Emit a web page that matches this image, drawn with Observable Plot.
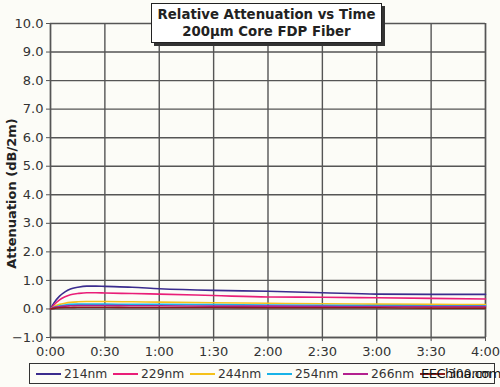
<!DOCTYPE html>
<html>
<head>
<meta charset="utf-8">
<script src="https://cdn.jsdelivr.net/npm/d3@7"></script>
<script src="https://cdn.jsdelivr.net/npm/@observablehq/plot@0.6"></script>
<style>
  html, body { margin: 0; padding: 0; background: #fcfcf7; }
  #wrap { position: relative; width: 500px; height: 387px; font-family: "DejaVu Sans", sans-serif; overflow: hidden; }
  #title { position: absolute; left: 151px; top: 3px; width: 229px; height: 38px; background: #fff; border: 1.5px solid #222;
    box-shadow: 3px 3px 0 #333; font-weight: bold; font-size: 13.3px; line-height: 17px; text-align: center; color: #222;
    display: flex; flex-direction: column; justify-content: center; }
  #legend { position: absolute; left: 29px; top: 363px; width: 464px; height: 19px; border: 1.5px solid #333; background: #fcfcf7;
    font-size: 12.3px; color: #333; }
  .item { position: absolute; top: 0; height: 19px; display: flex; align-items: center; }
  .sw { width: 25px; height: 0; border-top: 2px solid; margin-right: 3px; }
  #wm { position: absolute; left: 421px; top: 366px; font-size: 13px; color: #111; letter-spacing: -0.5px; }
</style>
</head>
<body>
<div id="wrap">
  <div id="chart"></div>
  <div id="title"><div>Relative Attenuation vs Time</div><div>200µm Core FDP Fiber</div></div>
  <div id="legend"></div>
  <div id="wm">EEChina.com</div>
</div>
<script>
const times = [0, 2, 5, 8, 11, 15, 20, 25, 30, 45, 60, 90, 120, 150, 180, 210, 240];
const s214 = [0, 0.22, 0.45, 0.60, 0.70, 0.76, 0.80, 0.80, 0.79, 0.76, 0.71, 0.65, 0.62, 0.57, 0.52, 0.51, 0.51];
const s229 = [0, 0.15, 0.32, 0.43, 0.50, 0.54, 0.57, 0.57, 0.56, 0.54, 0.52, 0.47, 0.42, 0.41, 0.39, 0.37, 0.35];
const s244 = [0, 0.08, 0.16, 0.20, 0.23, 0.25, 0.26, 0.26, 0.26, 0.25, 0.24, 0.22, 0.20, 0.18, 0.17, 0.16, 0.15];
const s254 = [0, 0.06, 0.11, 0.14, 0.16, 0.17, 0.17, 0.17, 0.17, 0.16, 0.16, 0.15, 0.14, 0.13, 0.12, 0.11, 0.11];
const s266 = [0, 0.05, 0.08, 0.10, 0.11, 0.12, 0.12, 0.12, 0.12, 0.11, 0.11, 0.10, 0.10, 0.09, 0.08, 0.08, 0.08];
const s300 = [0, 0.02, 0.04, 0.05, 0.05, 0.06, 0.06, 0.06, 0.06, 0.05, 0.05, 0.05, 0.04, 0.04, 0.04, 0.03, 0.03];
const seriesNames = ["214nm", "229nm", "244nm", "254nm", "266nm", "300nm"];
const seriesValues = [s214, s229, s244, s254, s266, s300];
const seriesColors = ["#3b2c8e", "#e91e78", "#f5c11a", "#18b2e8", "#b3208f", "#8a1d1d"];
const xTicks = [0, 30, 60, 90, 120, 150, 180, 210, 240];
const yTicks = [-1, 0, 1, 2, 3, 4, 5, 6, 7, 8, 9, 10];

const data = [];
seriesNames.forEach((name, i) => {
  times.forEach((t, j) => data.push({series: name, t, v: seriesValues[i][j]}));
});
const fmtTime = m => `${Math.floor(m / 60)}:${String(m % 60).padStart(2, "0")}`;

const chart = Plot.plot({
  width: 500,
  height: 364,
  marginLeft: 50,
  marginRight: 15,
  marginTop: 23,
  marginBottom: 27,
  style: {background: "transparent", fontFamily: "DejaVu Sans, sans-serif", fontSize: "13px", color: "#333"},
  x: {domain: [0, 240], ticks: xTicks, tickFormat: fmtTime},
  y: {domain: [-1, 10], ticks: yTicks, tickFormat: d3.format(".1f")},
  color: {domain: seriesNames, range: seriesColors},
  marks: [
    Plot.gridX(xTicks, {stroke: "#555", strokeOpacity: 1, strokeWidth: 1.4}),
    Plot.gridY(yTicks, {stroke: "#555", strokeOpacity: 1, strokeWidth: 1.4}),
    Plot.ruleX([240], {stroke: "#555", strokeWidth: 1.4}),
    Plot.ruleY([-1], {stroke: "#555", strokeWidth: 1.4}),
    Plot.ruleX([0], {stroke: "#555", strokeWidth: 1.4}),
    Plot.axisX({ticks: xTicks, tickFormat: fmtTime, tickSize: 4, tickPadding: 5, stroke: "#555", label: null, fontSize: 13}),
    Plot.axisY({ticks: yTicks, tickFormat: d3.format(".1f"), tickSize: 4, tickPadding: 3, stroke: "#555", label: null, fontSize: 13}),
    Plot.line(data, {x: "t", y: "v", z: "series", stroke: "series", strokeWidth: 1.6, curve: "monotone-x"}),
    Plot.text(["Attenuation (dB/2m)"], {frameAnchor: "left", textAnchor: "middle", dx: -39, dy: 13, rotate: -90, fontWeight: "bold", fontSize: 13, fill: "#222"})
  ]
});
document.getElementById("chart").appendChild(chart);

const legend = document.getElementById("legend");
const lefts = [6, 83, 160, 237, 313, 390];
seriesNames.forEach((name, i) => {
  const it = document.createElement("div");
  it.className = "item";
  it.style.left = lefts[i] + "px";
  it.innerHTML = `<div class="sw" style="border-color:${seriesColors[i]}"></div><span>${name}</span>`;
  legend.appendChild(it);
});
</script>
</body>
</html>
